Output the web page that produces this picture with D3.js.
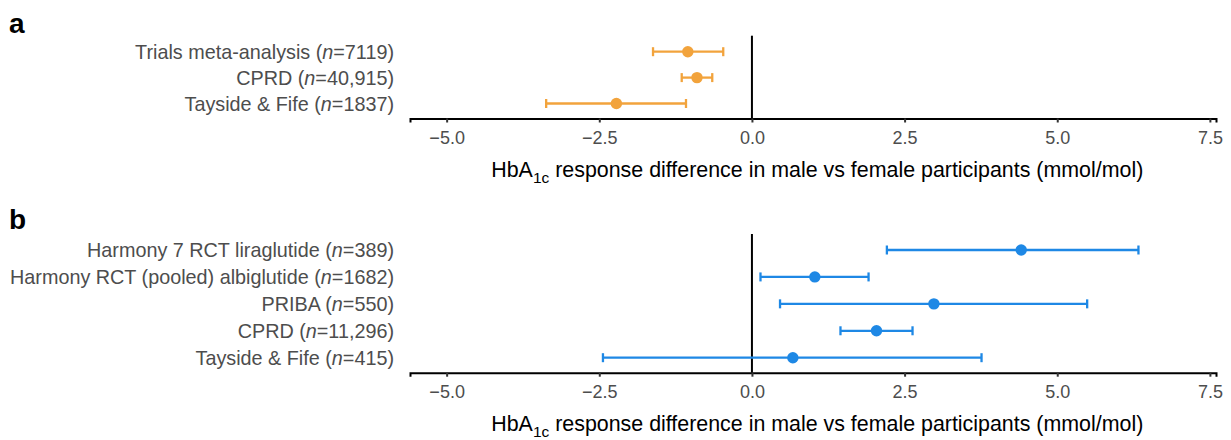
<!DOCTYPE html>
<meta charset="utf-8">
<html>
<head>
<script src="https://d3js.org/d3.v7.min.js"></script>
<style>
  body { margin: 0; background: #fff; }
  svg { font-family: "Liberation Sans", Arial, sans-serif; }
</style>
</head>
<body>
<div id="my_dataviz"></div>
<script>

// panel a data
const labelsA = ["Trials meta-analysis", "CPRD", "Tayside & Fife"];
const nA = ["7119", "40,915", "1837"];
const estA = [-1.05, -0.90, -2.22];
const lowA = [-1.62, -1.15, -3.37];
const highA = [-0.47, -0.65, -1.08];

// panel b data
const labelsB = ["Harmony 7 RCT liraglutide", "Harmony RCT (pooled) albiglutide", "PRIBA", "CPRD", "Tayside & Fife"];
const nB = ["389", "1682", "550", "11,296", "415"];
const estB = [4.41, 1.03, 2.98, 2.04, 0.67];
const lowB = [2.21, 0.14, 0.46, 1.45, -2.44];
const highB = [6.33, 1.91, 5.49, 2.63, 3.76];

const xTicks = [-5, -2.5, 0, 2.5, 5, 7.5];

const width = 1231, height = 440;
const svg = d3.select("#my_dataviz").append("svg")
  .attr("width", width).attr("height", height);

const x = d3.scaleLinear().domain([-5.6, 7.6]).range([410, 1216]);

function panel(letter, letterY, labels, ns, est, low, high, color, top, axisY) {
  // y scale for rows
  const y = d3.scalePoint()
    .domain(labels)
    .range([top, axisY - 15]);

  svg.append("text")
    .attr("x", 9).attr("y", letterY)
    .style("font-size", "28px").style("font-weight", "bold")
    .text(letter);

  // zero line
  svg.append("line")
    .attr("x1", x(0)).attr("x2", x(0))
    .attr("y1", top - 16).attr("y2", axisY)
    .attr("stroke", "#000").attr("stroke-width", 2);

  // row labels
  const lab = svg.append("g").selectAll("text")
    .data(labels).enter().append("text")
    .attr("x", 394)
    .attr("y", d => y(d))
    .attr("dy", "0.36em")
    .attr("text-anchor", "end")
    .style("font-size", "19.8px")
    .style("fill", "#4d4d4d");
  lab.each(function(d, i) {
    const t = d3.select(this);
    t.append("tspan").text(d + " (");
    t.append("tspan").style("font-style", "italic").text("n");
    t.append("tspan").text("=" + ns[i] + ")");
  });

  // error bars
  const g = svg.append("g");
  labels.forEach(function(d, i) {
    const yy = y(d);
    g.append("line")
      .attr("x1", x(low[i])).attr("x2", x(high[i]))
      .attr("y1", yy).attr("y2", yy)
      .attr("stroke", color).attr("stroke-width", 2.3);
    [low[i], high[i]].forEach(function(v) {
      g.append("line")
        .attr("x1", x(v)).attr("x2", x(v))
        .attr("y1", yy - 4.5).attr("y2", yy + 4.5)
        .attr("stroke", color).attr("stroke-width", 2.3);
    });
    g.append("circle")
      .attr("cx", x(est[i])).attr("cy", yy)
      .attr("r", 5.7).attr("fill", color);
  });

  // x axis
  const ax = svg.append("g")
    .attr("transform", "translate(0," + axisY + ")")
    .call(d3.axisBottom(x).tickValues(xTicks).tickSize(4).tickPadding(9));
  ax.select(".domain").attr("stroke", "#000").attr("stroke-width", 2);
  ax.selectAll(".tick line").attr("stroke", "#333").attr("stroke-width", 2);
  ax.selectAll(".tick text")
    .style("font-size", "18px")
    .style("fill", "#4d4d4d")
    .style("font-family", "Liberation Sans, Arial, sans-serif")
    .text(d => d3.format(".1f")(d).replace("-", "\u2212"));

  // axis title
  const tt = svg.append("text")
    .attr("x", x(1.07)).attr("y", axisY + 58)
    .attr("text-anchor", "middle")
    .style("font-size", "21.4px")
    .style("fill", "#000");
  tt.append("tspan").text("HbA");
  tt.append("tspan").attr("dy", 6).style("font-size", "15.5px").text("1c");
  tt.append("tspan").attr("dy", -6).text(" response difference in male vs female participants (mmol/mol)");
}

panel("a", 33, labelsA, nA, estA, lowA, highA, "#f2a33c", 51.7, 118.5);
panel("b", 229, labelsB, nB, estB, lowB, highB, "#1e88e5", 250, 372.7);

</script>
</body>
</html>
